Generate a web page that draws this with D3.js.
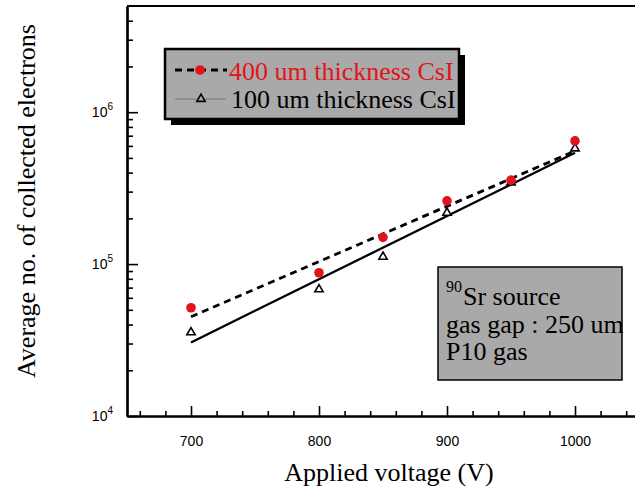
<!DOCTYPE html>
<html><head><meta charset="utf-8">
<script src="https://cdn.jsdelivr.net/npm/d3@7"></script>
<style>body{margin:0;background:#fff}svg{display:block}</style>
</head><body><svg id="chart" width="635" height="493"></svg>
<script>
// ---- data ----
const voltages = [700, 800, 850, 900, 950, 1000];
const electrons400 = [51600, 87700, 150000, 261000, 357000, 647000];
const electrons100 = [35500, 68200, 111700, 217600, 344800, 577000];
const fitVoltages = [700, 1000];
const fit400 = [45000, 555000];
const fit100 = [30500, 540000];
const xMajorTicks = [700, 800, 900, 1000];
const yMajorTicks = [1e4, 1e5, 1e6];
const yTickExponents = ["4", "5", "6"];
const seriesLabels = ["400 um thickness CsI", "100 um thickness CsI"];
const noteLines = ["Sr source", "gas gap : 250 um", "P10 gas"];
const noteSup = "90";
const xTitle = "Applied voltage (V)";
const yTitle = "Average no. of collected electrons";

// ---- setup ----
const svg = d3.select("#chart");
const serif = "'Liberation Serif','Times New Roman',serif";
const sans = "'Liberation Sans',Arial,sans-serif";
const red = "#e1141c";
const gray = "#a9a9a9";

const x = d3.scaleLinear().domain([650, 1050]).range([127, 639]);
const y = d3.scaleLog().domain([1e4, 5e6]).range([416, 6]);

// minor ticks
const xMinor = d3.range(660, 1050, 20).filter(v => !xMajorTicks.includes(v));
const yMinor = [];
yMajorTicks.forEach(b => { for (let m = 2; m <= 9; m++) if (b * m < 5e6) yMinor.push(b * m); });

const gx = svg.append("g").attr("transform", `translate(0,${y(1e4)})`);
gx.call(d3.axisBottom(x).tickValues(xMajorTicks).tickSizeInner(-10).tickSizeOuter(0)
  .tickPadding(20).tickFormat(d3.format("d")));
gx.call(g => g.selectAll("text").attr("font-family", sans).attr("font-size", 14).attr("fill", "#000"));
const gxm = svg.append("g").attr("transform", `translate(0,${y(1e4)})`);
gxm.call(d3.axisBottom(x).tickValues(xMinor).tickSizeInner(-5).tickSizeOuter(0).tickFormat(""));

const gy = svg.append("g").attr("transform", `translate(${x(650)},0)`);
gy.call(d3.axisLeft(y).tickValues(yMajorTicks).tickSizeInner(-11).tickSizeOuter(0).tickFormat(""));
const gym = svg.append("g").attr("transform", `translate(${x(650)},0)`);
gym.call(d3.axisLeft(y).tickValues(yMinor).tickSizeInner(-6).tickSizeOuter(0).tickFormat(""));

svg.selectAll(".domain").attr("stroke", "#000").attr("stroke-width", 2.2);
svg.selectAll(".tick line").attr("stroke", "#000").attr("stroke-width", 1.6);

// top & right frame
svg.append("line").attr("x1", x(650)).attr("x2", x(1050)).attr("y1", y(5e6)).attr("y2", y(5e6))
  .attr("stroke", "#000").attr("stroke-width", 2.2);
svg.append("line").attr("x1", x(1050)).attr("x2", x(1050)).attr("y1", y(5e6)).attr("y2", y(1e4))
  .attr("stroke", "#000").attr("stroke-width", 2.2);

// y tick labels 10^n
yMajorTicks.forEach((v, i) => {
  const t = svg.append("text").attr("x", 113).attr("y", y(v) + 5)
    .attr("text-anchor", "end").attr("font-family", sans).attr("font-size", 14);
  t.append("tspan").text("10");
  t.append("tspan").attr("dy", -7).attr("font-size", 10).text(yTickExponents[i]);
});

// axis titles
svg.append("text").attr("x", 389).attr("y", 481).attr("text-anchor", "middle")
  .attr("font-family", serif).attr("font-size", 26).text(xTitle);
svg.append("text").attr("transform", "translate(35,201) rotate(-90)").attr("text-anchor", "middle")
  .attr("font-family", serif).attr("font-size", 26).text(yTitle);

// fit lines
const line = d3.line().x(d => x(d[0])).y(d => y(d[1]));
svg.append("path").datum(fitVoltages.map((v, i) => [v, fit100[i]])).attr("d", line)
  .attr("fill", "none").attr("stroke", "#000").attr("stroke-width", 2.3);
svg.append("path").datum(fitVoltages.map((v, i) => [v, fit400[i]])).attr("d", line)
  .attr("fill", "none").attr("stroke", "#000").attr("stroke-width", 2.8).attr("stroke-dasharray", "7,5");

// markers
const tri = d3.symbol(d3.symbolTriangle, 30);
svg.selectAll(".tri").data(voltages.map((v, i) => [v, electrons100[i]])).join("path")
  .attr("transform", d => `translate(${x(d[0])},${y(d[1])})`).attr("d", tri)
  .attr("fill", "#fff").attr("stroke", "#000").attr("stroke-width", 1.6);
svg.selectAll(".dot").data(voltages.map((v, i) => [v, electrons400[i]])).join("circle")
  .attr("cx", d => x(d[0])).attr("cy", d => y(d[1])).attr("r", 4.8).attr("fill", red);

// legend
svg.append("rect").attr("x", 171).attr("y", 55).attr("width", 294).attr("height", 70).attr("fill", "#000");
svg.append("rect").attr("x", 165).attr("y", 49).attr("width", 294).attr("height", 70)
  .attr("fill", gray).attr("stroke", "#000").attr("stroke-width", 2.5);
svg.append("line").attr("x1", 175).attr("x2", 227).attr("y1", 70).attr("y2", 70)
  .attr("stroke", "#000").attr("stroke-width", 2.8).attr("stroke-dasharray", "7,5");
svg.append("circle").attr("cx", 200).attr("cy", 70).attr("r", 4.8).attr("fill", red);
svg.append("text").attr("x", 229).attr("y", 80).attr("font-family", serif).attr("font-size", 26)
  .attr("fill", red).text(seriesLabels[0]);
svg.append("line").attr("x1", 175).attr("x2", 226).attr("y1", 99).attr("y2", 99)
  .attr("stroke", "#777").attr("stroke-width", 1);
svg.append("path").attr("transform", "translate(201,99)").attr("d", tri)
  .attr("fill", gray).attr("stroke", "#000").attr("stroke-width", 1.6);
svg.append("text").attr("x", 231).attr("y", 108).attr("font-family", serif).attr("font-size", 26)
  .attr("fill", "#000").text(seriesLabels[1]);

// note box
svg.append("rect").attr("x", 438).attr("y", 267).attr("width", 184).attr("height", 113)
  .attr("fill", gray).attr("stroke", "#000").attr("stroke-width", 1.5);
const n1 = svg.append("text").attr("x", 446).attr("y", 305).attr("font-family", serif).attr("font-size", 26);
n1.append("tspan").attr("font-size", 16).attr("dy", -13).text(noteSup);
n1.append("tspan").attr("dy", 13).attr("dx", 1).text(noteLines[0]);
svg.append("text").attr("x", 446).attr("y", 333).attr("font-family", serif).attr("font-size", 26).text(noteLines[1]);
svg.append("text").attr("x", 446).attr("y", 360).attr("font-family", serif).attr("font-size", 26).text(noteLines[2]);
</script></body></html>
